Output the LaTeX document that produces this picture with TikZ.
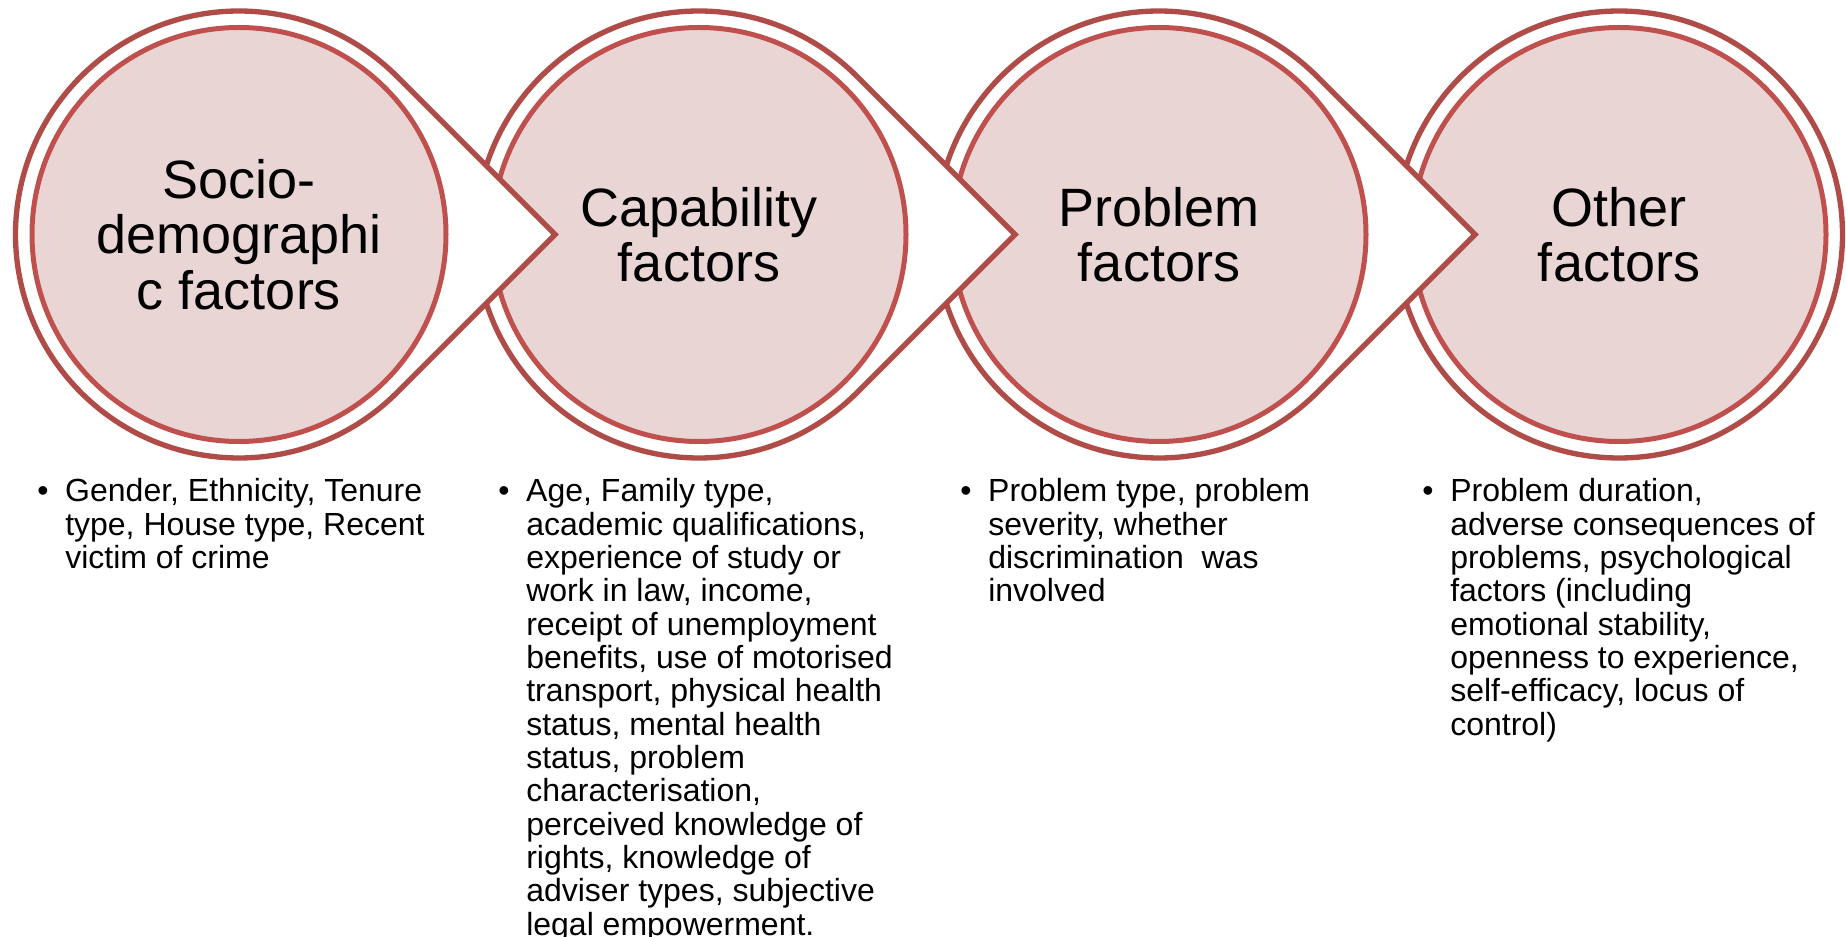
\documentclass[tikz,border=0pt]{standalone}
\usepackage{fontspec}
\setmainfont{Liberation Sans}
\usepackage{xcolor}
\usepackage{tikz}
\usetikzlibrary{positioning}

\definecolor{ringred}{RGB}{176,76,72}
\definecolor{corered}{RGB}{192,80,77}
\definecolor{corefill}{RGB}{234,213,213}

\begin{document}
\begin{tikzpicture}[
    x=0.75pt, y=-0.75pt,
    node distance=345pt,
    ring/.style={draw=ringred, line width=4pt, fill=white, line join=miter},
    core/.style={circle, draw=corered, line width=3.75pt, fill=corefill, minimum size=310.5pt, inner sep=0pt, align=center, font=\fontsize{40.5}{41.5}\selectfont},
    factorlist/.style={anchor=north west, inner sep=0pt, align=left, font=\fontsize{24}{25}\selectfont}
]
\useasboundingbox (0,0) rectangle (1846,937);

% centres, right to left so that each tip lies over the next circle
\coordinate (c4) at (1619,234.5);
\coordinate [left of=c4] (c3);
\coordinate [left of=c3] (c2);
\coordinate [left of=c2] (c1);

\draw [ring] (c4) circle[radius=223.5];
\node [core] (other) at (c4) {Other\\factors};

\draw [ring] ([shift={(45:223.5)}]c3) arc[start angle=45, end angle=315, radius=223.5] -- ([shift={(316.1,0)}]c3) -- cycle;
\node [core] (problem) at (c3) {Problem\\factors};

\draw [ring] ([shift={(45:223.5)}]c2) arc[start angle=45, end angle=315, radius=223.5] -- ([shift={(316.1,0)}]c2) -- cycle;
\node [core] (capability) at (c2) {Capability\\factors};

\draw [ring] ([shift={(45:223.5)}]c1) arc[start angle=45, end angle=315, radius=223.5] -- ([shift={(316.1,0)}]c1) -- cycle;
\node [core] (socio) at (c1) {Socio-\\demographi\\c factors};

% bullet lists under the circles
\node [factorlist] (sociolist) at (65,478.5) {\llap{\textbullet\hspace{12.5pt}}Gender, Ethnicity, Tenure\\type, House type, Recent\\victim of crime};
\node [factorlist] (capabilitylist) at (526,478.5) {\llap{\textbullet\hspace{12.5pt}}Age, Family type,\\academic qualifications,\\experience of study or\\work in law, income,\\receipt of unemployment\\benefits, use of motorised\\transport, physical health\\status, mental health\\status, problem\\characterisation,\\perceived knowledge of\\rights, knowledge of\\adviser types, subjective\\legal empowerment.};
\node [factorlist] (problemlist) at (988,478.5) {\llap{\textbullet\hspace{12.5pt}}Problem type, problem\\severity, whether\\discrimination\ \ was\\involved};
\node [factorlist] (otherlist) at (1450,478.5) {\llap{\textbullet\hspace{12.5pt}}Problem duration,\\adverse consequences of\\problems, psychological\\factors (including\\emotional stability,\\openness to experience,\\self-efficacy, locus of\\control)};

\end{tikzpicture}
\end{document}
